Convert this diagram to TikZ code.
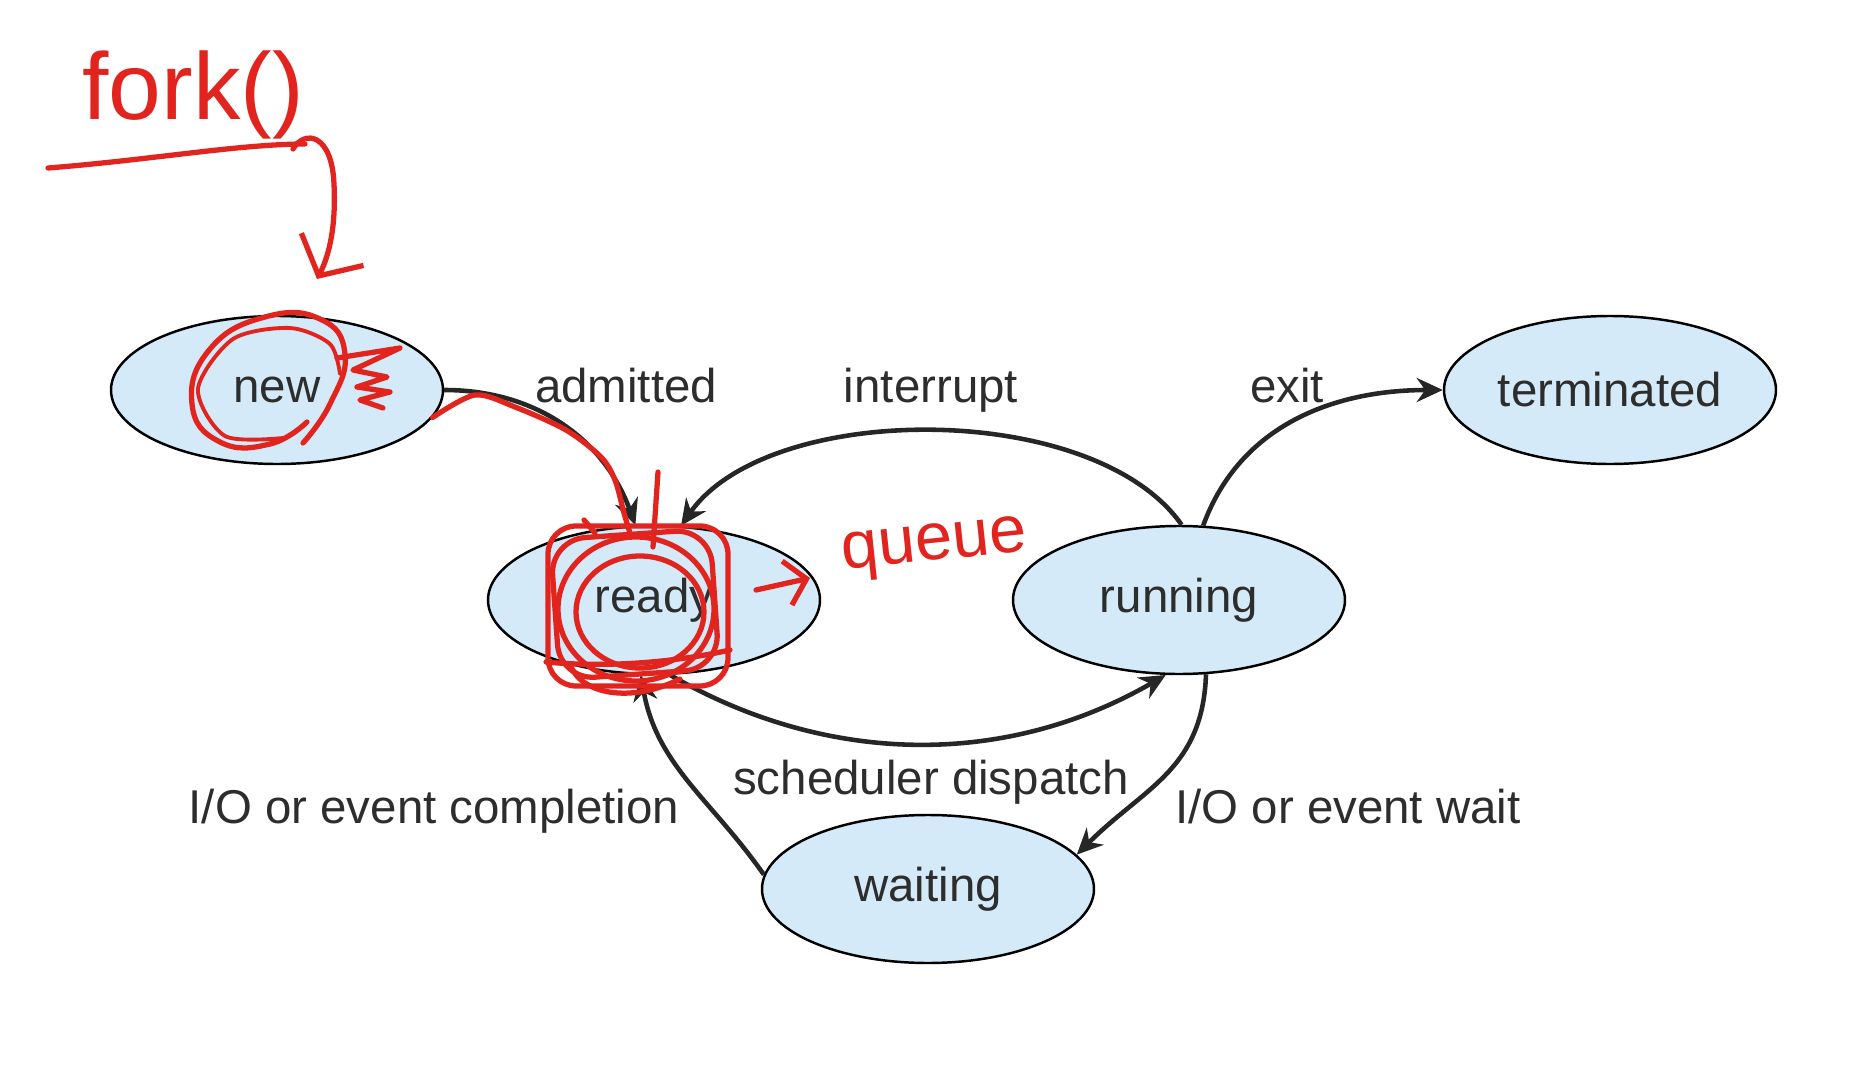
\documentclass[tikz,border=0pt]{standalone}
\usepackage{fontspec}
\setmainfont{Liberation Sans}
\usetikzlibrary{shapes,arrows.meta,positioning}
\usepackage{xcolor}
\definecolor{statefill}{RGB}{212,234,248}
\definecolor{labelgray}{RGB}{45,45,45}
\definecolor{penred}{RGB}{226,36,30}

\begin{document}
\begin{tikzpicture}[
    state/.style={draw, ellipse, fill=statefill, line width=0.7pt, minimum width=3.32cm, minimum height=1.48cm, inner sep=0pt, text=labelgray, font=\fontsize{13.5}{16}\selectfont},
    lbl/.style={anchor=base, text=labelgray, font=\fontsize{13.5}{16}\selectfont},
    arrow/.style={-{Stealth[length=2.6mm,width=2.4mm]}, line width=1.3pt, black!85},
    pen/.style={penred, line width=1.5pt, line cap=round, line join=round},
    penarrow/.style={pen, -{Straight Barb[length=2mm,width=4.5mm]}},
    pentext/.style={anchor=base, text=penred}
]
    \useasboundingbox (0,0) rectangle (18.52,10.64);

    % states
    \node[state] (new) at (2.77,6.74) {new};
    \node[state] (ready) at (6.54,4.64) {ready};
    \node[state] (running) at (11.79,4.64) {running};
    \node[state] (terminated) at (16.10,6.74) {terminated};
    \node[state] (waiting) at (9.28,1.75) {waiting};

    % transitions
    \draw[arrow] (new.east) to[out=0, in=110] (ready.104);
    \draw[arrow] (running.88) to[out=125, in=55, looseness=0.78] (ready.70);
    \draw[arrow] (running.72) to[out=70, in=180] (terminated.west);
    \draw[arrow] (ready.-78) to[out=-30, in=-150, looseness=0.95] (running.-100);
    \draw[arrow] (running.-70) to[out=-92, in=45, looseness=1.1] (waiting.13);
    \draw[arrow] (waiting.175) to[out=125, in=-80] (ready.-100);

    % transition labels
    \node[lbl] (admitted) at (6.26,6.62) {admitted};
    \node[lbl] (interrupt) at (9.31,6.62) {interrupt};
    \node[lbl] (exit) at (12.87,6.62) {exit};
    \node[lbl] (dispatch) at (9.31,2.70) {scheduler dispatch};
    \node[lbl] (completion) at (4.34,2.41) {I/O or event completion};
    \node[lbl] (eventwait) at (13.48,2.41) {I/O or event wait};

    % red pen notes
    \node[pentext, font=\fontsize{27}{30}\selectfont] (forknote) at (1.93,9.45) {fork()};
    \coordinate (forkhook) at (2.93,9.15);
    \coordinate (forktip) at (3.17,7.85);
    \draw[pen] (0.48,8.96) .. controls (1.5,9.04) and (2.4,9.20) .. (3.05,9.20);
    \draw[pen, -{Straight Barb[length=3mm,width=7mm]}] (forkhook) .. controls (3.05,9.35) and (3.32,9.30) .. (3.34,8.80) .. controls (3.36,8.40) and (3.30,8.10) .. (forktip);

    \draw[pen] plot[smooth, tension=0.8] coordinates {(3.07,6.42) (2.70,6.20) (2.20,6.22) (1.92,6.60) (2.10,7.15) (2.65,7.47) (3.20,7.45) (3.45,7.10) (3.30,6.60) (3.03,6.21)};
    \draw[pen, line width=1.1pt] plot[smooth] coordinates {(2.83,6.26) (2.25,6.28) (1.98,6.75) (2.33,7.25) (2.90,7.36) (3.30,7.20) (3.40,6.90)};
    \draw[pen] (3.37,7.06) -- (4.00,7.16) -- (3.53,6.94) -- (3.87,6.87) -- (3.57,6.77) -- (3.90,6.72) -- (3.60,6.64) -- (3.83,6.56);

    \draw[pen] plot[smooth] coordinates {(new.-10) (4.75,6.69) (5.15,6.57) (5.66,6.34) (6.01,6.07) (6.15,5.84) (6.24,5.51) (6.30,5.31)};
    \draw[pen] (6.58,5.92) -- (6.53,5.17);
    \draw[pen] (5.84,5.44) -- (5.95,5.31);

    \draw[pen, rounded corners=8pt] (5.48,3.78) rectangle (7.28,5.38);
    \draw[pen, rounded corners=10pt, rotate around={4:(6.38,4.58)}] (5.55,3.90) rectangle (7.15,5.30);
    \draw[pen] (6.36,4.55) ellipse [x radius=0.78, y radius=0.72];
    \draw[pen] (6.40,4.52) ellipse [x radius=0.64, y radius=0.56];
    \draw[pen] (5.46,4.02) .. controls (6.2,3.95) and (6.9,4.05) .. (7.30,4.14);
    \draw[pen] (5.70,4.00) .. controls (5.80,3.70) and (6.30,3.60) .. (6.80,3.85);

    \coordinate (queuetip) at (8.10,4.86);
    \draw[penarrow] (7.56,4.74) -- (queuetip);
    \node[pentext, rotate=6, font=\fontsize{19}{22}\selectfont] (queuenote) at (9.36,5.04) {queue};
\end{tikzpicture}
\end{document}
